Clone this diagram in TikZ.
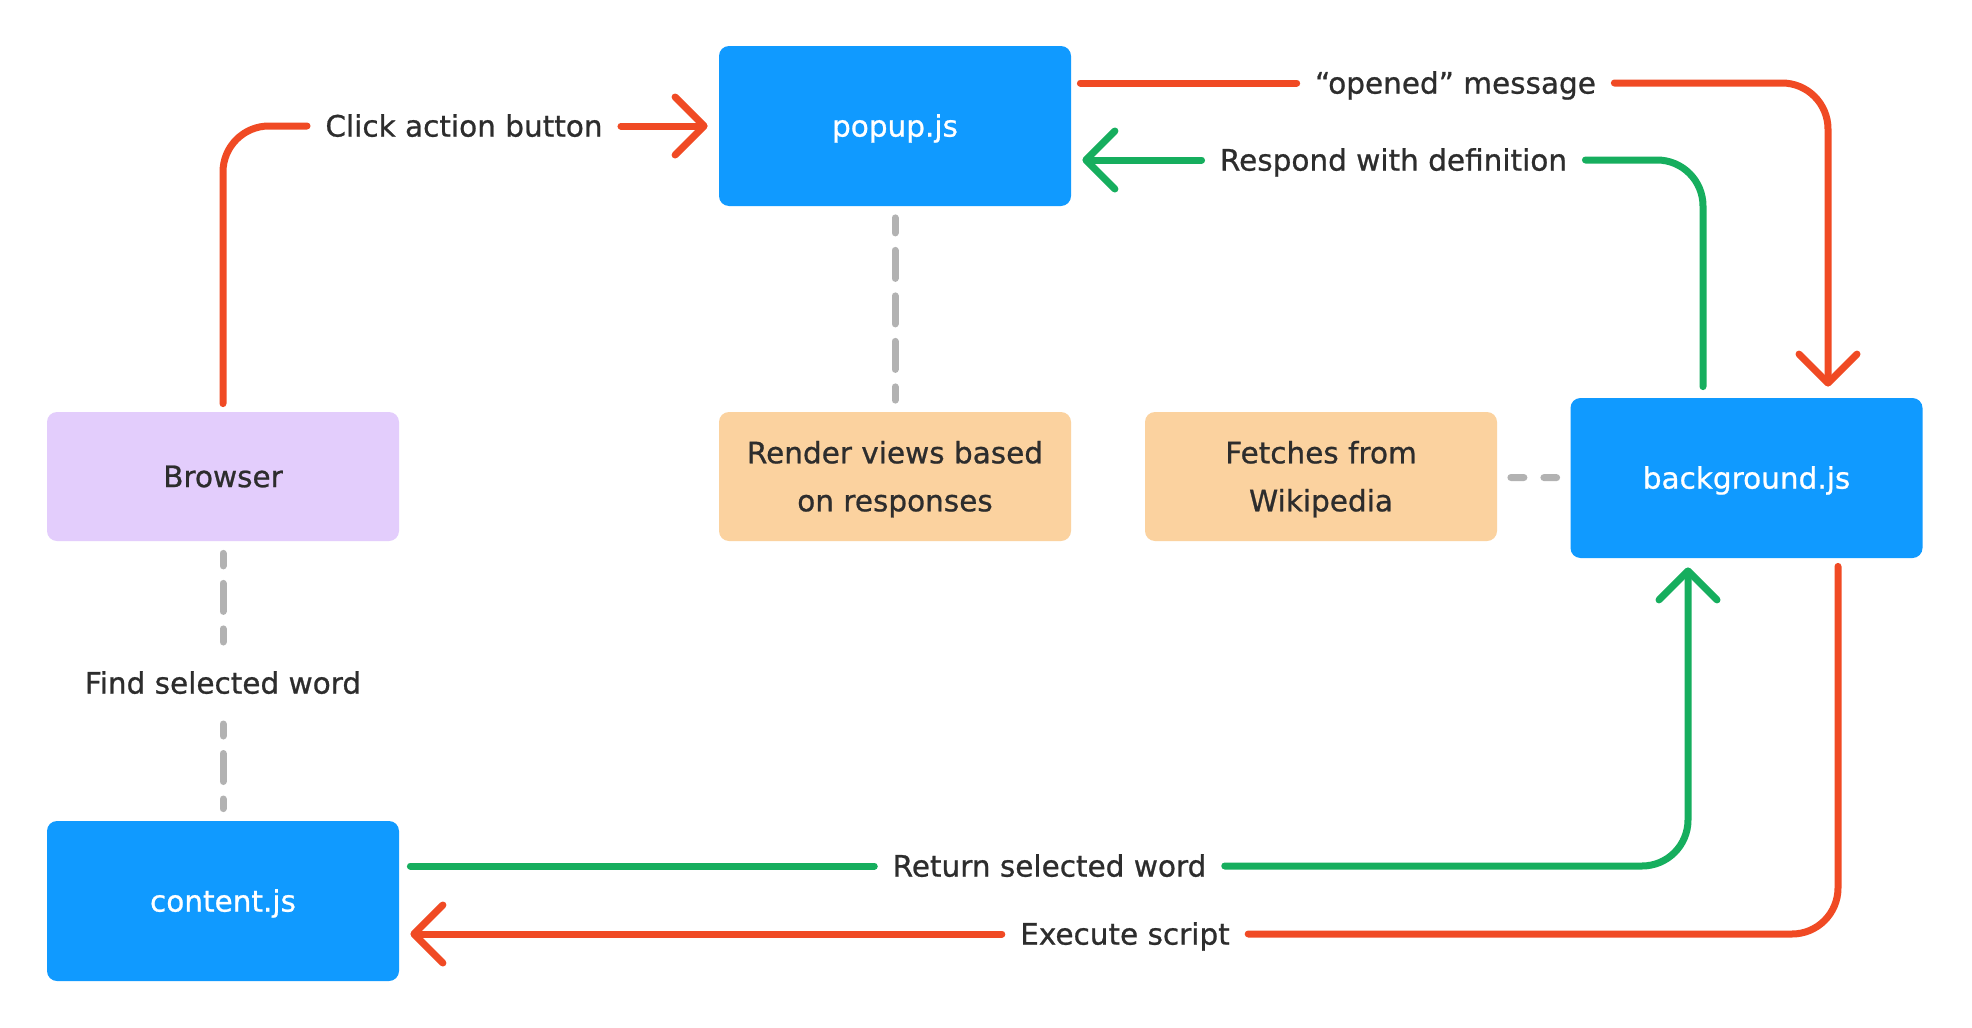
\documentclass[tikz,border=0pt]{standalone}
\usepackage{fontspec}
\setmainfont{DejaVu Sans}[FakeBold=0.8]
\usetikzlibrary{arrows.meta}
\definecolor{boxblue}{RGB}{16,154,255}
\definecolor{boxpurple}{RGB}{227,205,252}
\definecolor{boxpeach}{RGB}{251,210,159}
\definecolor{linered}{RGB}{240,74,36}
\definecolor{linegreen}{RGB}{22,174,94}
\definecolor{linegray}{RGB}{178,178,178}
\definecolor{textdark}{RGB}{45,45,45}
\begin{document}
\begin{tikzpicture}[x=0.5pt,y=-0.5pt,
  every node/.style={font=\fontsize{14.75pt}{24pt}\selectfont},
  box/.style={rounded corners=5pt, minimum width=176pt, inner sep=0pt, text height=10.6pt, text depth=0pt, align=center},
  bluebox/.style={box, minimum height=80pt, fill=boxblue, text=white},
  purplebox/.style={box, minimum height=64.5pt, fill=boxpurple, text=textdark},
  peachbox/.style={box, minimum height=64.5pt, fill=boxpeach, text=textdark},
  twoline/.style={text height=34.8pt, text depth=0pt},
  lbl/.style={text=textdark, inner xsep=9pt, inner ysep=0pt, text height=10.6pt, text depth=0pt},
  conn/.style={line width=3.5pt, line cap=round, line join=round, rounded corners=23pt},
  redline/.style={conn, draw=linered},
  greenline/.style={conn, draw=linegreen},
  grayline/.style={conn, draw=linegray, dash pattern=on 14pt off 8.75pt},
  shortdash/.style={dash pattern=on 6.5pt off 10pt},
  arrowtip/.style={-{Straight Barb[length=14.5pt,width=29pt,round]}}
]
\useasboundingbox (0,0) rectangle (1972,1028);
\fill[white] (0,0) rectangle (1972,1028);

% boxes
\node[bluebox] (popup) at (895,126) {popup.js};
\node[purplebox] (browser) at (223,476.5) {Browser};
\node[peachbox, twoline] (render) at (895,476.5) {Render views based\\on responses};
\node[peachbox, twoline] (fetch) at (1321,476.5) {Fetches from\\Wikipedia};
\node[bluebox] (background) at (1746.5,478) {background.js};
\node[bluebox] (content) at (223,901) {content.js};

% labels
\node[lbl] (click) at (464,126) {Click action button};
\node[lbl] (opened) at (1455.5,83) {“opened” message};
\node[lbl] (respond) at (1393.5,160) {Respond with definition};
\node[lbl, inner ysep=15pt] (find) at (223,683) {Find selected word};
\node[lbl] (return) at (1049.5,866) {Return selected word};
\node[lbl] (execute) at (1125,934) {Execute script};

% connectors
\draw[redline] ([shift={(0,-8)}]browser.north) |- (click.west);
\draw[redline, arrowtip] (click.east) -- ([shift={(-11,0)}]popup.west);

\draw[redline] ([shift={(9,-43)}]popup.east) -- (opened.west);
\draw[redline, arrowtip] (opened.east) -| ([shift={(81.5,-11)}]background.north);

\draw[greenline] ([shift={(-43.5,-11)}]background.north) |- (respond.east);
\draw[greenline, arrowtip] (respond.west) -- ([shift={(11,34)}]popup.east);

\draw[grayline, dash phase=6.5pt] ([shift={(0,11.5)}]popup.south) -- ([shift={(0,-11.5)}]render.north);
\draw[grayline, dash phase=7.75pt] ([shift={(0,12)}]browser.south) -- (find.north);
\draw[grayline, dash phase=8pt] (find.south) -- ([shift={(0,-12)}]content.north);
\draw[grayline, shortdash] ([shift={(13.5,1)}]fetch.east) -- ([shift={(-13.5,-0.4)}]background.west);

\draw[greenline] ([shift={(11,-35)}]content.east) -- (return.west);
\draw[greenline, arrowtip] (return.east) -| ([shift={(-58.5,9)}]background.south);

\draw[redline] ([shift={(91.5,8)}]background.south) |- (execute.east);
\draw[redline, arrowtip] (execute.west) -- ([shift={(11,33)}]content.east);
\end{tikzpicture}
\end{document}
